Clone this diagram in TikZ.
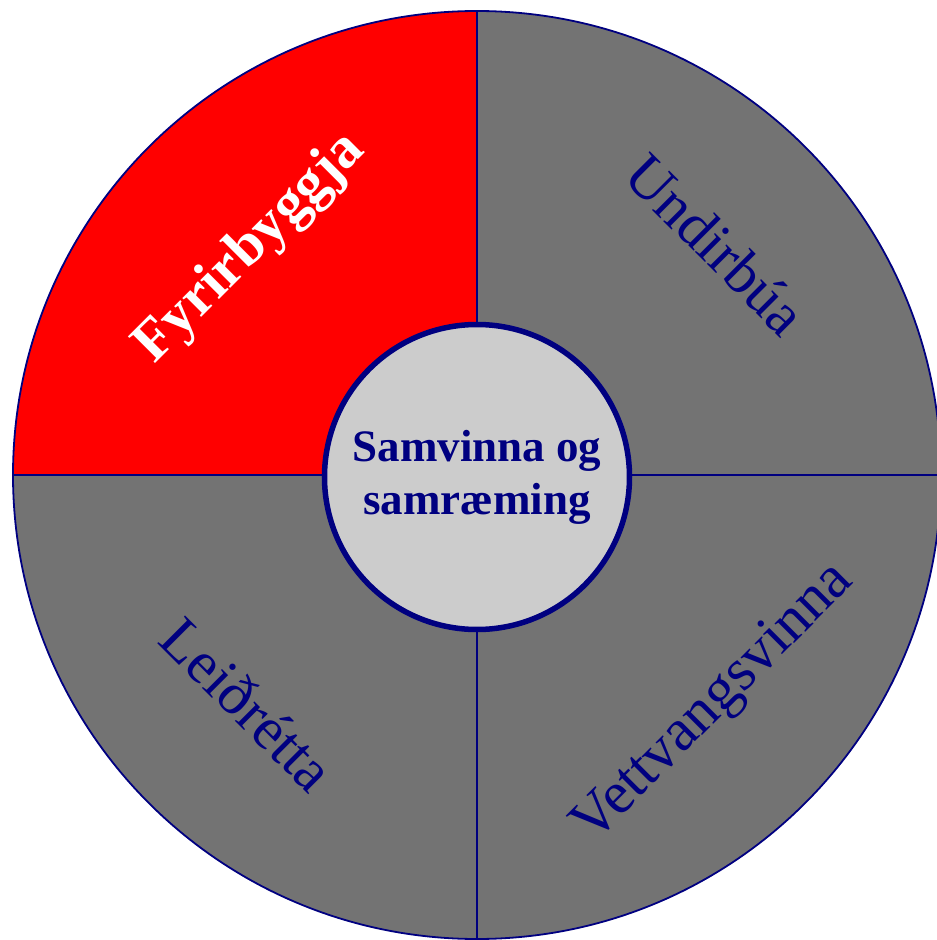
\documentclass[tikz,border=0pt]{standalone}
\usepackage{fontspec}
\setmainfont{Liberation Serif}
\definecolor{navy}{RGB}{0,0,128}
\definecolor{wheelgray}{RGB}{115,115,115}
\definecolor{hubgray}{RGB}{204,204,204}
\begin{document}
\begin{tikzpicture}[x=1pt,y=1pt,
    divider/.style={draw=navy,line width=1.4pt},
    phase/.style={font=\fontsize{60}{64}\selectfont,text=navy},
  ]
  \useasboundingbox (-477,-465) rectangle (460,475);
  % wheel
  \fill[wheelgray] (0,0) circle (464);
  \fill[red] (0,0) -- (180:464) arc (180:90:464) -- cycle;
  \draw[navy,line width=1.8pt] (0,0) circle (464);
  \coordinate (top) at (90:464);
  \coordinate (bottom) at (270:464);
  \coordinate (left) at (180:464);
  \coordinate (right) at (0:464);
  \draw[divider] (top) -- (bottom);
  \draw[divider] (left) -- (right);
  % phases
  \draw
    (135:320) node[phase,rotate=45,text=white,font=\fontsize{58}{62}\selectfont\bfseries] (prevent) {Fyrirbyggja}
    (44:332) node[phase,rotate=-45] (prepare) {Undirbúa}
    (-44:330) node[phase,rotate=45] (field) {Vettvangsvinna}
    (-135:324) node[phase,rotate=-45] (correct) {Leiðrétta};
  % hub
  \node[circle,draw=navy,line width=5.5pt,fill=hubgray,minimum size=305,
    inner sep=0pt,align=center,text=navy,
    font=\fontsize{45}{53}\selectfont\bfseries] (hub) at (0,-2) {Samvinna og\\samræming};
\end{tikzpicture}
\end{document}
